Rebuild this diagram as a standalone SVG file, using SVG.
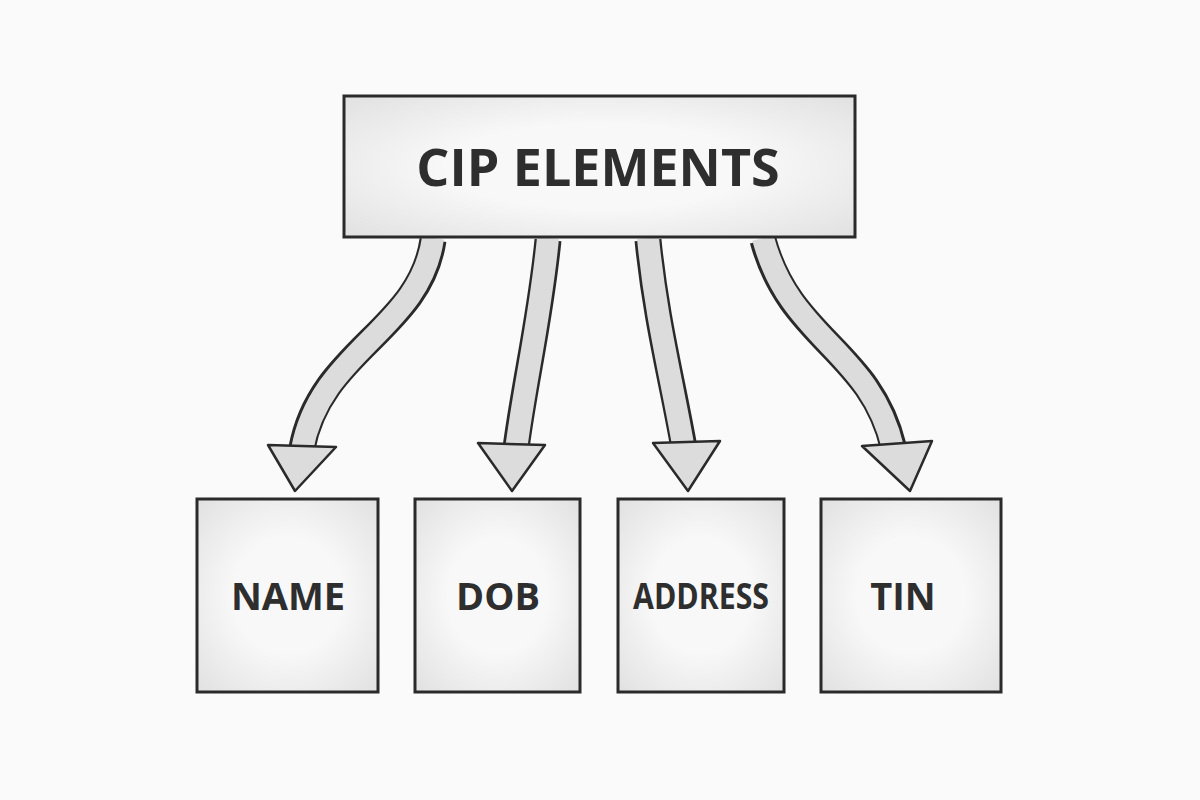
<svg xmlns="http://www.w3.org/2000/svg" width="1200" height="800" viewBox="0 0 1200 800">
<defs>
<radialGradient id="g" cx="0.5" cy="0.5" r="0.75"><stop offset="0.4" stop-color="#f8f8f8"/><stop offset="1" stop-color="#dedede"/></radialGradient>
<style>
.box{fill:url(#g);stroke:#2a2a2a;stroke-width:3}
.lbl{font-family:"Open Sans","DejaVu Sans",sans-serif;font-weight:bold;fill:#2e2e2e;text-anchor:middle}
.so{fill:none;stroke:#2a2a2a;stroke-width:27}
.si{fill:none;stroke:#dcdcdc;stroke-width:22}
.hd{fill:#dcdcdc;stroke:#2a2a2a;stroke-width:2.5;stroke-linejoin:round}
</style>
</defs>
<rect width="1200" height="800" fill="#fafafa"/>
<g id="connectors">
<path class="so" d="M433,240 C420,330 320,350 302,448"/>
<path class="so" d="M548,240 C540,320 525,380 516,448"/>
<path class="so" d="M648,240 C656,320 672,380 684,448"/>
<path class="so" d="M763,240 C790,340 870,350 893,446"/>
<path class="si" d="M433,238 C420,330 320,350 302,450"/>
<path class="si" d="M548,238 C540,320 525,380 516,450"/>
<path class="si" d="M648,238 C656,320 672,380 684,450"/>
<path class="si" d="M763,238 C790,340 870,350 893,448"/>
<polygon class="hd" points="268,445 336,447 295,491"/>
<polygon class="hd" points="478,443 545,445 512,491"/>
<polygon class="hd" points="653,443 720,441 688,491"/>
<polygon class="hd" points="862,446 932,441 910,491"/>
</g>
<g id="top"><rect class="box" x="344" y="96" width="511" height="141"/><text class="lbl" x="598" y="186" font-size="52">CIP ELEMENTS</text></g>
<g id="name"><rect class="box" x="197" y="499" width="181" height="193"/><text class="lbl" x="288" y="610" font-size="38">NAME</text></g>
<g id="dob"><rect class="box" x="415" y="499" width="165" height="193"/><text class="lbl" x="498" y="610" font-size="38">DOB</text></g>
<g id="address"><rect class="box" x="618" y="499" width="166" height="193"/><text class="lbl" x="701" y="609" font-size="36" textLength="136" lengthAdjust="spacingAndGlyphs">ADDRESS</text></g>
<g id="tin"><rect class="box" x="821" y="499" width="180" height="193"/><text class="lbl" x="903" y="610" font-size="38">TIN</text></g>
</svg>
